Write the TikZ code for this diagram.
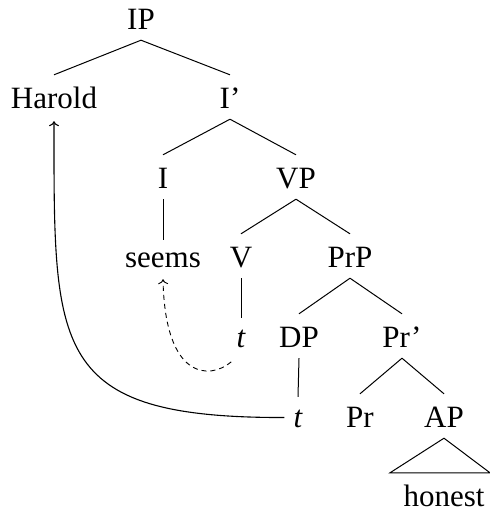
\documentclass[tikz,border=0pt]{standalone}
\usepackage{fontspec}
\setmainfont{Liberation Serif}
\usetikzlibrary{arrows.meta}
\begin{document}
\begin{tikzpicture}[x=1pt,y=-1pt,
  lbl/.style={anchor=base,inner xsep=0pt,inner ysep=11pt,text height=22pt,text depth=0pt,font=\fontsize{31}{36}\selectfont},
  lowlbl/.style={lbl,text height=17pt},
  edge/.style={line width=1pt},
  mv/.style={line width=1.1pt,-{To[length=5pt,width=10pt]}},
  dmv/.style={line width=0.9pt,-{To[length=5pt,width=10pt]},dash pattern=on 5pt off 4pt}]
\useasboundingbox (0,0) rectangle (490,512);
\node[lbl] (IP) at (141,29) {IP};
\node[lbl] (Harold) at (54,108) {Harold};
\node[lbl] (Ibar) at (230,108) {I’};
\node[lbl] (I) at (163,188) {I};
\node[lbl] (VP) at (296,188) {VP};
\node[lowlbl,text height=16pt] (seems) at (163,267) {seems};
\node[lbl] (V) at (241,267) {V};
\node[lbl] (PrP) at (350,267) {PrP};
\node[lowlbl,text height=18pt] (tV) at (241,347) {\itshape t};
\node[lbl] (DP) at (299,347) {DP};
\node[lbl] (Prbar) at (402,347) {Pr’};
\node[lowlbl,text height=19pt] (tD) at (298,427) {\itshape t};
\node[lbl] (Pr) at (360,427) {Pr};
\node[lbl] (AP) at (444,427) {AP};
\node[lbl] (honest) at (444,506) {honest};
\draw[edge] (IP.south) -- (Harold.north);
\draw[edge] (IP.south) -- (Ibar.north);
\draw[edge] (Ibar.south) -- (I.north);
\draw[edge] (Ibar.south) -- (VP.north);
\draw[edge] (I.south) -- (seems.north);
\draw[edge] (VP.south) -- (V.north);
\draw[edge] (VP.south) -- (PrP.north);
\draw[edge] (V.south) -- (tV.north);
\draw[edge] (PrP.south) -- (DP.north);
\draw[edge] (PrP.south) -- (Prbar.north);
\draw[edge] (DP.south) -- (tD.north);
\draw[edge] (Prbar.south) -- (Pr.north);
\draw[edge] (Prbar.south) -- (AP.north);
\draw[edge] (AP.south) -- ([xshift=-54pt]honest.north) -- ([xshift=46pt]honest.north) -- cycle;
\draw[mv,shorten <=9pt,shorten >=2pt] (tD.west) .. controls (50,418) and (54,350) .. (Harold.south);
\draw[dmv,shorten <=1pt,shorten >=1pt] ([xshift=-9pt,yshift=-3pt]tV.south) .. controls (210,380) and (165,380) .. (seems.south);
\end{tikzpicture}
\end{document}
